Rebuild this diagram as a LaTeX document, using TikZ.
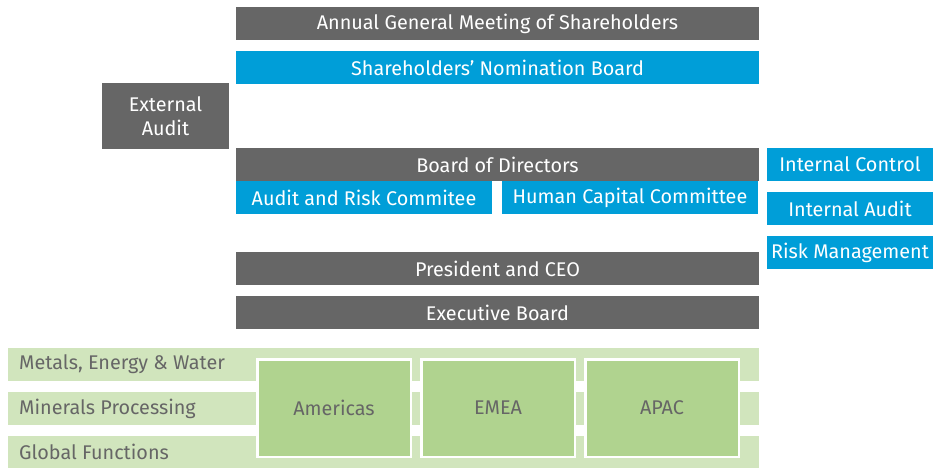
\documentclass[tikz,border=0pt]{standalone}
\usepackage{fontspec}
\setmainfont{Fira Sans}
\usepackage{xcolor}
\usepackage{tikz}
\definecolor{org-grey}{HTML}{666666}
\definecolor{org-blue}{HTML}{009ED8}
\definecolor{org-lightgreen}{HTML}{D1E5BD}
\definecolor{org-green}{HTML}{B0D38F}

\begin{document}
\begin{tikzpicture}[x=1pt, y=-1pt,
    box/.style={inner sep=0pt, minimum height=33pt, text=white,
        font=\fontsize{19.8}{24}\selectfont},
    greybox/.style={box, fill=org-grey},
    bluebox/.style={box, fill=org-blue},
    band/.style={inner sep=0pt, minimum width=751pt, minimum height=33pt,
        fill=org-lightgreen},
    bandlabel/.style={anchor=west, inner sep=0pt, text=org-grey,
        font=\fontsize{19.8}{24}\selectfont},
    region/.style={inner sep=0pt, minimum width=153.5pt, minimum height=97.5pt,
        fill=org-green, draw=white, line width=2.5pt, text=org-grey,
        font=\fontsize{19.8}{24}\selectfont}]

    \useasboundingbox (0,0) rectangle (933,468);

    % governing bodies
    \node[greybox, minimum width=523pt] (agm) at (497.5,23.5) {Annual General Meeting of Shareholders};
    \node[bluebox, minimum width=523pt] (snb) at (497.5,67.5) {Shareholders' Nomination Board};
    \node[greybox, minimum width=127pt, minimum height=66pt, align=center] (extaudit) at (165.5,116) {External\\Audit};
    \node[greybox, minimum width=523pt] (bod) at (497.5,164.5) {Board of Directors};
    \node[bluebox, minimum width=256pt] (arc) at (364,197.5) {Audit and Risk Commitee};
    \node[bluebox, minimum width=256pt] (hcc) at (630,197.5) {Human Capital Committee};

    % control functions
    \node[bluebox, minimum width=166pt] (intcontrol) at (850,164.5) {Internal Control};
    \node[bluebox, minimum width=166pt] (intaudit) at (850,208.5) {Internal Audit};
    \node[bluebox, minimum width=166pt] (riskmgmt) at (850,252.5) {Risk Management};

    % management
    \node[greybox, minimum width=523pt] (ceo) at (497.5,268.5) {President and CEO};
    \node[greybox, minimum width=523pt] (execboard) at (497.5,312.5) {Executive Board};

    % business lines
    \node[band] (mew) at (383.5,364.5) {};
    \node[band] (mp) at (383.5,408.5) {};
    \node[band, minimum height=32pt] (gf) at (383.5,452) {};
    \node[bandlabel] (mewlabel) at (19,364.5) {Metals, Energy \& Water};
    \node[bandlabel] (mplabel) at (19,408.5) {Minerals Processing};
    \node[bandlabel] (gflabel) at (19,452) {Global Functions};

    % regions
    \node[region] (americas) at (334,408) {Americas};
    \node[region] (emea) at (498,408) {EMEA};
    \node[region] (apac) at (662,408) {APAC};

\end{tikzpicture}
\end{document}
